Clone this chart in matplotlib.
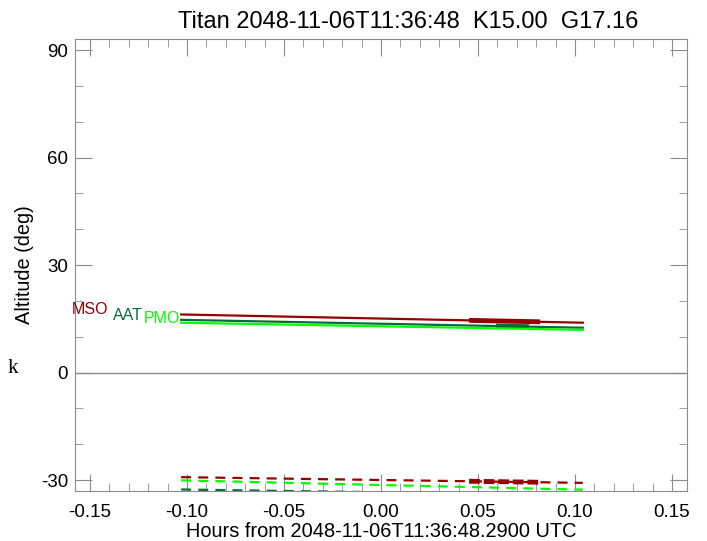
import numpy as np
import matplotlib.pyplot as plt
from matplotlib.ticker import MultipleLocator

plt.rcParams['font.family'] = ['Liberation Sans', 'DejaVu Sans']

# observatories
sites = ["MSO", "AAT", "PMO"]
colors = ["#960000", "#0a6b3a", "#00ff00"]

# hours from mid-time, endpoints of each track
t_span = [-0.103, 0.104]

# target altitude (deg) at start / end
alt_target = {
    "MSO": [16.2, 13.9],
    "AAT": [14.7, 12.5],
    "PMO": [13.9, 11.9],
}
# sun altitude (deg, dashed) at start / end
alt_sun = {
    "MSO": [-29.2, -30.8],
    "AAT": [-32.65, -34.2],
    "PMO": [-30.1, -32.7],
}
# usable window (hours) drawn thick
window = {
    "MSO": [0.0454, 0.0820],
    "AAT": [0.0593, 0.0763],
}
# label right edges (hours)
label_x = {"MSO": -0.1407, "AAT": -0.1227, "PMO": -0.1036}

fig = plt.figure(figsize=(7.07, 5.41), dpi=100)
ax = fig.add_axes([0.1061, 0.0924, 0.8656, 0.8355])

grey = "#8c8c8c"
ax.axhline(0, color=grey, lw=1)

for s, c in zip(sites, colors):
    t = np.array(t_span)
    a = np.array(alt_target[s])
    d = np.array(alt_sun[s])
    ax.plot(t, a, color=c, lw=1.6)
    ax.plot(t, d, color=c, lw=1.6, ls=(0, (4.5, 3.2)))
    if s in window:
        w = np.array(window[s])
        aw = np.interp(w, t, a)
        dw = np.interp(w, t, d)
        ax.plot(w, aw, color=c, lw=3.5, solid_capstyle="butt")
        ax.plot(w, dw, color=c, lw=3.5, ls=(0, (2.2, 0.8)))
    ax.text(label_x[s], a[0], s, color=c, fontsize=11.5, ha="right",
            va="baseline")

ax.set_xlim(-0.1577, 0.1577)
ax.set_ylim(-33.07, 93.07)
ax.xaxis.set_major_locator(MultipleLocator(0.05))
ax.xaxis.set_minor_locator(MultipleLocator(0.01))
ax.yaxis.set_major_locator(MultipleLocator(30))
ax.yaxis.set_minor_locator(MultipleLocator(10))
ax.xaxis.set_major_formatter(plt.FormatStrFormatter("%.2f"))
ax.yaxis.set_major_formatter(plt.FormatStrFormatter("%d"))

for sp in ax.spines.values():
    sp.set_color(grey)
ax.tick_params(which="both", direction="in", top=True, right=True,
               color=grey, labelsize=13.5, labelcolor="black")
ax.tick_params(which="major", length=12)
ax.tick_params(axis="x", which="major", pad=9)
ax.tick_params(axis="y", which="major", pad=5)
ax.tick_params(which="minor", length=6)

ax.set_title("Titan 2048-11-06T11:36:48  K15.00  G17.16", fontsize=17,
             pad=8, x=0.545)
ax.set_xlabel("Hours from 2048-11-06T11:36:48.2900 UTC", fontsize=14.4,
              labelpad=1)
ax.set_ylabel("Altitude (deg)", fontsize=14.4, labelpad=5)

fig.text(0.01, 0.318, "k", fontsize=15, family=["Liberation Serif"],
         va="center")

fig.savefig("out.png", dpi=100)
